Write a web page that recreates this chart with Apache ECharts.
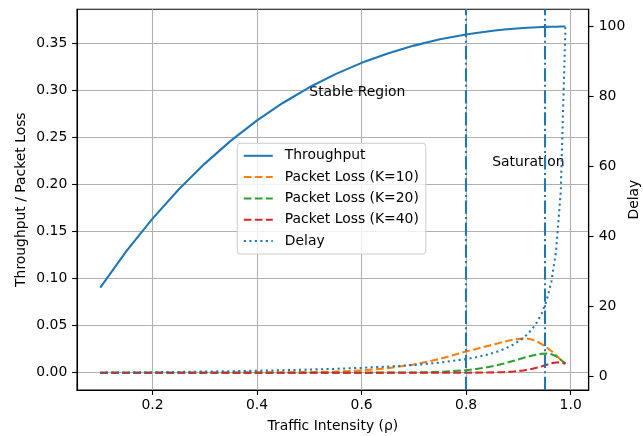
<!DOCTYPE html>
<html>
<head>
<meta charset="utf-8">
<title>Throughput / Packet Loss / Delay</title>
<script src="https://cdn.jsdelivr.net/npm/echarts@6/dist/echarts.min.js"></script>
<style>
    html, body { margin: 0; padding: 0; background: #fff; }
    #chart { width: 643px; height: 436px; }
</style>
</head>
<body>
<div id="chart"></div>
<script>
// traffic intensity samples
var rho = [0.10, 0.15, 0.20, 0.25, 0.30, 0.35, 0.40, 0.45, 0.50, 0.55, 0.60, 0.65, 0.70, 0.75, 0.80,
    0.8192, 0.8372, 0.8551, 0.8731, 0.8911, 0.9091, 0.9181, 0.9271, 0.9361, 0.9451, 0.9541, 0.9630, 0.9720, 0.9810, 0.9900];

var throughput = [0.0905, 0.1291, 0.1637, 0.1947, 0.2222, 0.2466, 0.2681, 0.2869, 0.3033, 0.3173, 0.3293, 0.3393, 0.3476, 0.3543, 0.3595,
    0.3611, 0.3624, 0.3636, 0.3647, 0.3655, 0.3663, 0.3666, 0.3669, 0.3671, 0.3673, 0.3675, 0.3676, 0.3677, 0.3679, 0.3679];

var lossK10 = [0, 0, 0, 0, 0, 0, 0.0001, 0.0002, 0.0005, 0.0011, 0.0024, 0.0047, 0.0087, 0.0146, 0.0226,
    0.0252, 0.0278, 0.0303, 0.0330, 0.0352, 0.0362, 0.0361, 0.0350, 0.0330, 0.0302, 0.0268, 0.0230, 0.0186, 0.0138, 0.0095];

var lossK20 = [0, 0, 0, 0, 0, 0, 0, 0, 0, 0, 0, 0.0001, 0.0002, 0.0008, 0.0026,
    0.0040, 0.0055, 0.0074, 0.0098, 0.0127, 0.0156, 0.0170, 0.0183, 0.0194, 0.0201, 0.0203, 0.0196, 0.0175, 0.0138, 0.0095];

var lossK40 = [0, 0, 0, 0, 0, 0, 0, 0, 0, 0, 0, 0, 0, 0, 0,
    0.0001, 0.0002, 0.0003, 0.0006, 0.0012, 0.0024, 0.0032, 0.0042, 0.0054, 0.0068, 0.0084, 0.0099, 0.0108, 0.0110, 0.0095];

var delay = [1.111, 1.176, 1.25, 1.333, 1.429, 1.538, 1.667, 1.818, 2.0, 2.222, 2.5, 2.857, 3.333, 4.0, 5.0,
    5.53, 6.14, 6.90, 7.88, 9.18, 11.0, 12.21, 13.72, 15.65, 18.21, 21.79, 27.03, 35.71, 52.63, 100];

// region boundaries and labels
var regionLines = [0.8, 0.95];
var regionText = ['Stable Region', 'Saturation'];
var regionTextAt = [[0.5, 80], [0.85, 60]];

// tick labels
var xTicks = [0.2, 0.4, 0.6, 0.8, 1.0];
var leftTicks = [0, 0.05, 0.10, 0.15, 0.20, 0.25, 0.30, 0.35];
var rightTicks = [0, 20, 40, 60, 80, 100];

var FONT = 'DejaVu Sans';
var FS = 13.9;
var LW = 2.08;
var C0 = '#1f77b4', C1 = '#ff7f0e', C2 = '#2ca02c', C3 = '#d62728';
var DASHED = [7.7, 3.33];
var DOTTED = [2.08, 3.44];
var DASHDOT = [13.3, 3.33, 2.08, 3.33];

function pairs(ys) {
    return rho.map(function (r, i) {
        return [r, ys[i]];
    });
}

function lineSeries(name, ys, color, dash, yIndex) {
    return {
        name: name,
        type: 'line',
        yAxisIndex: yIndex,
        data: pairs(ys),
        symbol: 'none',
        showSymbol: false,
        animation: false,
        lineStyle: { color: color, width: LW, type: dash },
        itemStyle: { color: color },
        emphasis: { disabled: true }
    };
}

var tpSeries = lineSeries('Throughput', throughput, C0, 'solid', 0);
tpSeries.markLine = {
    silent: true,
    symbol: 'none',
    label: { show: false },
    lineStyle: { color: C0, width: LW, type: DASHDOT },
    data: regionLines.map(function (v) { return { xAxis: v }; })
};

// text annotations on the delay axis
var textSeries = {
    type: 'scatter',
    yAxisIndex: 1,
    symbolSize: 0,
    silent: true,
    animation: false,
    itemStyle: { color: 'transparent' },
    data: regionTextAt.map(function (p, i) { return { value: p, name: regionText[i] }; }),
    label: {
        show: true,
        position: [0, 0],
        align: 'left',
        verticalAlign: 'bottom',
        offset: [0, 3],
        formatter: function (p) { return p.name; },
        color: '#000',
        opacity: 1,
        fontFamily: FONT,
        fontSize: FS
    }
};

var axisText = { color: '#000', fontFamily: FONT, fontSize: FS };
var spine = { color: '#000', width: 1.1 };

var myChart = echarts.init(document.getElementById('chart'), null, { renderer: 'canvas' });

var option = {
    backgroundColor: '#fff',
    animation: false,
    grid: {
        left: 77, right: 54.3, top: 9.3, bottom: 46,
        containLabel: false,
        outerBoundsMode: 'none',
        show: true, borderColor: '#000', borderWidth: 1.1
    },
    legend: {
        orient: 'vertical',
        left: 237.3,
        top: 143.3,
        padding: [5.5, 7, 6, 5.5],
        itemWidth: 29,
        itemHeight: 14,
        itemGap: 7.3,
        backgroundColor: 'rgba(255,255,255,0.8)',
        borderColor: '#cccccc',
        borderWidth: 1,
        borderRadius: 3,
        selectedMode: false,
        itemStyle: { opacity: 0 },
        textStyle: { color: '#000', fontFamily: FONT, fontSize: FS, padding: [0, 0, 0, 7] },
        data: ['Throughput', 'Packet Loss (K=10)', 'Packet Loss (K=20)', 'Packet Loss (K=40)', 'Delay']
    },
    xAxis: {
        type: 'value',
        min: 0.0555,
        max: 1.0345,
        name: 'Traffic Intensity (ρ)',
        nameLocation: 'middle',
        nameGap: 29,
        nameMoveOverlap: false,
        nameTextStyle: axisText,
        axisLine: { show: true, onZero: false, lineStyle: spine },
        axisTick: { show: true, customValues: xTicks, length: 4.9, lineStyle: spine },
        axisLabel: {
            customValues: xTicks, margin: 8,
            color: '#000', fontFamily: FONT, fontSize: FS,
            formatter: function (v) { return v.toFixed(1); }
        },
        splitLine: { show: true, lineStyle: { color: '#b0b0b0', width: 1.1 } }
    },
    yAxis: [{
        type: 'value',
        position: 'left',
        min: -0.0184,
        max: 0.3862,
        name: 'Throughput / Packet Loss',
        nameLocation: 'middle',
        nameGap: 49,
        nameMoveOverlap: false,
        nameTextStyle: axisText,
        axisLine: { show: true, onZero: false, lineStyle: spine },
        axisTick: { show: true, customValues: leftTicks, length: 4.9, lineStyle: spine },
        axisLabel: {
            customValues: leftTicks, margin: 9.7,
            color: '#000', fontFamily: FONT, fontSize: FS,
            formatter: function (v) { return v.toFixed(2); }
        },
        splitLine: { show: true, lineStyle: { color: '#b0b0b0', width: 1.1 } }
    }, {
        type: 'value',
        position: 'right',
        min: -3.83,
        max: 104.94,
        name: 'Delay',
        nameLocation: 'middle',
        nameRotate: 90,
        nameGap: 39,
        nameMoveOverlap: false,
        nameTextStyle: axisText,
        axisLine: { show: true, onZero: false, lineStyle: spine },
        axisTick: { show: true, customValues: rightTicks, length: 4.9, lineStyle: spine },
        axisLabel: {
            customValues: rightTicks, margin: 10,
            color: '#000', fontFamily: FONT, fontSize: FS
        },
        splitLine: { show: false }
    }],
    series: [
        tpSeries,
        lineSeries('Packet Loss (K=10)', lossK10, C1, DASHED, 0),
        lineSeries('Packet Loss (K=20)', lossK20, C2, DASHED, 0),
        lineSeries('Packet Loss (K=40)', lossK40, C3, DASHED, 0),
        lineSeries('Delay', delay, C0, DOTTED, 1),
        textSeries
    ]
};

myChart.setOption(option);
</script>
</body>
</html>
